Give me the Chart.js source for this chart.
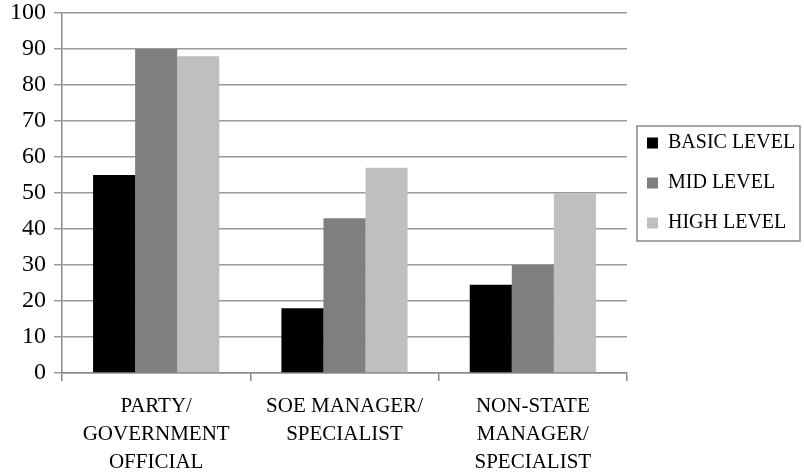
<!DOCTYPE html>
<html>
<head>
<meta charset="utf-8">
<script src="https://cdn.jsdelivr.net/npm/chart.js@4"></script>
<style>
  html, body { margin: 0; padding: 0; background: #fff; }
  #wrap { width: 804px; height: 475px; }
</style>
</head>
<body>
<div id="wrap"><canvas id="chart"></canvas></div>
<script>
const categories = [
  ["PARTY/", "GOVERNMENT", "OFFICIAL"],
  ["SOE MANAGER/", "SPECIALIST"],
  ["NON-STATE", "MANAGER/", "SPECIALIST"],
];
const basicLevel = [55, 18, 24.5];
const midLevel = [90, 43, 30];
const highLevel = [88, 57, 50];
const yTicks = [0, 10, 20, 30, 40, 50, 60, 70, 80, 90, 100];

const serif = "'Liberation Serif', 'DejaVu Serif', serif";
const legendWidth = 177;

// keep the legend column a fixed width and draw a border round its items,
// like the spreadsheet legend box
const legendBox = {
  id: "legendBox",
  beforeLayout(chart) {
    const lg = chart.legend;
    if (lg && !lg._fixedWidth) {
      const fit = lg.fit;
      lg.fit = function () {
        fit.call(this);
        this.width = legendWidth;
      };
      lg._fixedWidth = true;
    }
  },
  afterDraw(chart) {
    const boxes = chart.legend && chart.legend.legendHitBoxes;
    if (!boxes || !boxes.length) return;
    const left = Math.min(...boxes.map((b) => b.left)) - 10;
    const top = Math.min(...boxes.map((b) => b.top)) - 7;
    const right = Math.min(chart.width - 4, Math.max(...boxes.map((b) => b.left + b.width)) + 6);
    const bottom = Math.max(...boxes.map((b) => b.top + b.height)) + 8;
    const ctx = chart.ctx;
    ctx.save();
    ctx.strokeStyle = "#8a8a8a";
    ctx.lineWidth = 1.5;
    ctx.strokeRect(left, top, right - left, bottom - top);
    ctx.restore();
  },
};

new Chart(document.getElementById("chart"), {
  type: "bar",
  data: {
    labels: categories,
    datasets: [
      { label: "BASIC LEVEL", data: basicLevel, backgroundColor: "#000000" },
      { label: "MID LEVEL", data: midLevel, backgroundColor: "#7f7f7f" },
      { label: "HIGH LEVEL", data: highLevel, backgroundColor: "#bfbfbf" },
    ],
  },
  options: {
    responsive: true,
    maintainAspectRatio: false,
    animation: false,
    layout: { padding: { left: 2, right: 0, top: 0, bottom: -13 } },
    datasets: {
      bar: { categoryPercentage: 0.67, barPercentage: 1.0 },
    },
    plugins: {
      legend: {
        position: "right",
        align: "start",
        // empty title only pushes the items down to where the reference has them
        title: { display: true, text: " ", font: { size: 10 }, padding: { top: 101, bottom: 0 } },
        labels: {
          font: { family: serif, size: 20 },
          color: "#000",
          boxWidth: 11,
          boxHeight: 11,
          padding: 20,
        },
      },
      tooltip: { enabled: false },
    },
    scales: {
      x: {
        grid: {
          drawOnChartArea: false,
          drawTicks: true,
          tickLength: 8,
          color: "#8a8a8a",
          lineWidth: 1.5,
        },
        border: { color: "#8a8a8a", width: 1.5 },
        ticks: {
          font: { family: serif, size: 21, lineHeight: 1.35 },
          color: "#000",
          maxRotation: 0,
          padding: 11,
        },
      },
      y: {
        min: 0,
        max: 100,
        afterBuildTicks: (axis) => {
          axis.ticks = yTicks.map((v) => ({ value: v }));
        },
        afterFit: (axis) => {
          axis.paddingTop = 13;
        },
        grid: { color: "#9a9a9a", lineWidth: 1.5, tickLength: 8 },
        border: { color: "#8a8a8a", width: 1.5 },
        ticks: {
          font: { family: serif, size: 24, lineHeight: 1 },
          color: "#000",
          padding: 8,
        },
      },
    },
  },
  plugins: [legendBox],
});
</script>
</body>
</html>
